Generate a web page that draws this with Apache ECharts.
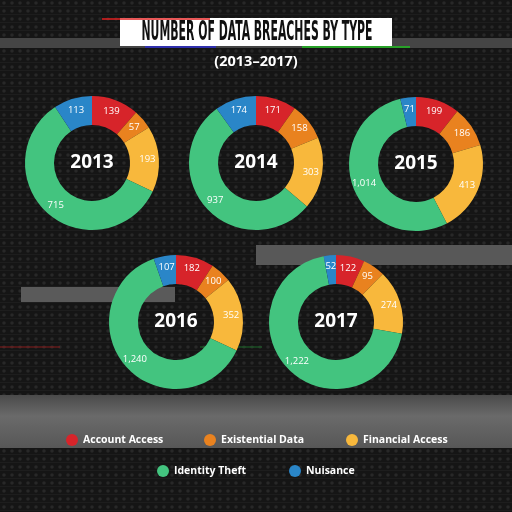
<!DOCTYPE html>
<html lang="en">
<head>
    <meta charset="UTF-8">
    <title>Number of Data Breaches by Type</title>
    <script type="text/javascript" src="https://cdn.jsdelivr.net/npm/echarts@6/dist/echarts.min.js"></script>
    <style>
        html, body { margin: 0; padding: 0; background: #121212; }
    </style>
</head>
<body>
    <div id="main" style="width: 512px;height:512px;"></div>
    <script type="text/javascript">
        // breach types, in clockwise order from 12 o'clock
        const types = ['Account Access', 'Existential Data', 'Financial Access', 'Identity Theft', 'Nuisance'];
        const typeColors = ['#d7242a', '#e9821f', '#f8b83c', '#43c47f', '#2a86c8'];
        const years = ['2013', '2014', '2015', '2016', '2017'];

        const accountAccess = [139, 171, 199, 182, 122];
        const existentialData = [57, 158, 186, 100, 95];
        const financialAccess = [193, 303, 413, 352, 274];
        const identityTheft = [715, 937, 1014, 1240, 1222];
        const nuisance = [113, 174, 71, 107, 52];

        // where each donut sits
        const centers = [[92, 163], [256, 163], [416, 164], [176, 322], [336, 322]];

        // dotted / scanline texture for the background
        function makePattern() {
            const c = document.createElement('canvas');
            c.width = 8;
            c.height = 8;
            const ctx = c.getContext('2d');
            ctx.fillStyle = '#151515';
            ctx.fillRect(0, 0, 8, 8);
            ctx.fillStyle = '#1d1d1d';
            ctx.fillRect(0, 6, 8, 1);
            ctx.fillStyle = '#282828';
            ctx.beginPath();
            ctx.arc(4, 3, 1.8, 0, Math.PI * 2);
            ctx.fill();
            return c;
        }

        // squeeze the heading into the width it has in the original
        const titleText = 'NUMBER OF DATA BREACHES BY TYPE';
        const titleFont = 'bold 24px "DejaVu Sans Condensed", "Liberation Sans Narrow", sans-serif';
        const measure = document.createElement('canvas').getContext('2d');
        measure.font = titleFont;
        const titleScale = 231 / measure.measureText(titleText).width;

        const pieSeries = years.map(function (year, i) {
            const values = [accountAccess[i], existentialData[i], financialAccess[i], identityTheft[i], nuisance[i]];
            return {
                type: 'pie',
                name: year,
                center: centers[i],
                radius: [38, 67],
                startAngle: 90,
                clockwise: true,
                avoidLabelOverlap: false,
                silent: true,
                label: {
                    show: true,
                    position: 'inside',
                    color: '#ffffff',
                    fontFamily: 'Open Sans',
                    fontSize: 9.5,
                    formatter: function (p) {
                        return p.value.toLocaleString('en-US');
                    }
                },
                labelLine: { show: false },
                data: types.map(function (t, k) {
                    return { name: t, value: values[k], itemStyle: { color: typeColors[k] } };
                })
            };
        });

        // one legend per entry so each can be placed like the original
        const legendPos = [[66, 434], [204, 434], [346, 434], [157, 465], [289, 465]];
        const legends = types.map(function (t, k) {
            return {
                data: [t],
                left: legendPos[k][0],
                top: legendPos[k][1],
                padding: 0,
                icon: 'circle',
                itemWidth: 12,
                itemHeight: 12,
                itemGap: 0,
                selectedMode: false,
                textStyle: {
                    color: '#ffffff',
                    fontFamily: 'Open Sans',
                    fontWeight: 'bold',
                    fontSize: 10.5
                }
            };
        });

        const yearTexts = years.map(function (year, i) {
            return {
                type: 'text',
                x: centers[i][0],
                y: centers[i][1],
                z: 10,
                style: {
                    text: year,
                    fill: '#ffffff',
                    font: 'bold 19px "Open Sans"',
                    textAlign: 'center',
                    textVerticalAlign: 'middle'
                }
            };
        });

        const background = [
            { type: 'rect', shape: { x: 0, y: 0, width: 512, height: 512 }, style: { fill: { image: makePattern(), repeat: 'repeat' } }, z: -10 },
            { type: 'rect', shape: { x: 0, y: 38, width: 512, height: 10 }, style: { fill: '#454545' }, z: -9 },
            { type: 'rect', shape: { x: 256, y: 245, width: 256, height: 20 }, style: { fill: '#585858' }, z: -9 },
            { type: 'rect', shape: { x: 21, y: 287, width: 154, height: 15 }, style: { fill: '#5a5a5a' }, z: -9 },
            {
                type: 'rect', shape: { x: 0, y: 395, width: 512, height: 53 }, z: -9,
                style: {
                    fill: {
                        type: 'linear', x: 0, y: 0, x2: 0, y2: 1,
                        colorStops: [
                            { offset: 0, color: '#4a4a4a' },
                            { offset: 0.4, color: '#6a6a6a' },
                            { offset: 1, color: '#575757' }
                        ]
                    }
                }
            },
            { type: 'line', shape: { x1: 0, y1: 347, x2: 60, y2: 347 }, style: { stroke: '#8a1d1d', lineWidth: 1 }, z: -8 },
            { type: 'line', shape: { x1: 200, y1: 347, x2: 262, y2: 347 }, style: { stroke: '#1d6a2a', lineWidth: 1 }, z: -8 },
            // title box
            { type: 'rect', shape: { x: 120, y: 18, width: 272, height: 28 }, style: { fill: '#ffffff' }, z: 1 },
            { type: 'line', shape: { x1: 102, y1: 19, x2: 210, y2: 19 }, style: { stroke: '#e02020', lineWidth: 1.5 }, z: 2 },
            { type: 'line', shape: { x1: 145, y1: 47, x2: 216, y2: 47 }, style: { stroke: '#2a2ad0', lineWidth: 1.5 }, z: 2 },
            { type: 'line', shape: { x1: 302, y1: 47, x2: 410, y2: 47 }, style: { stroke: '#20c020', lineWidth: 1.5 }, z: 2 },
            {
                type: 'text', x: 257, y: 33, z: 3, scaleX: titleScale, scaleY: 1.1,
                style: {
                    text: titleText,
                    fill: '#111111',
                    font: titleFont,
                    textAlign: 'center',
                    textVerticalAlign: 'middle'
                }
            },
            {
                type: 'text', x: 256, y: 62, z: 3,
                style: {
                    text: '(2013\u20132017)',
                    fill: '#ffffff',
                    font: 'bold 14.5px "Open Sans"',
                    textAlign: 'center',
                    textVerticalAlign: 'middle'
                }
            }
        ];

        const myChart = echarts.init(document.getElementById('main'));
        const option = {
            backgroundColor: '#151515',
            animation: false,
            legend: legends,
            graphic: background.concat(yearTexts),
            series: pieSeries
        };
        myChart.setOption(option);
    </script>
</body>
</html>
